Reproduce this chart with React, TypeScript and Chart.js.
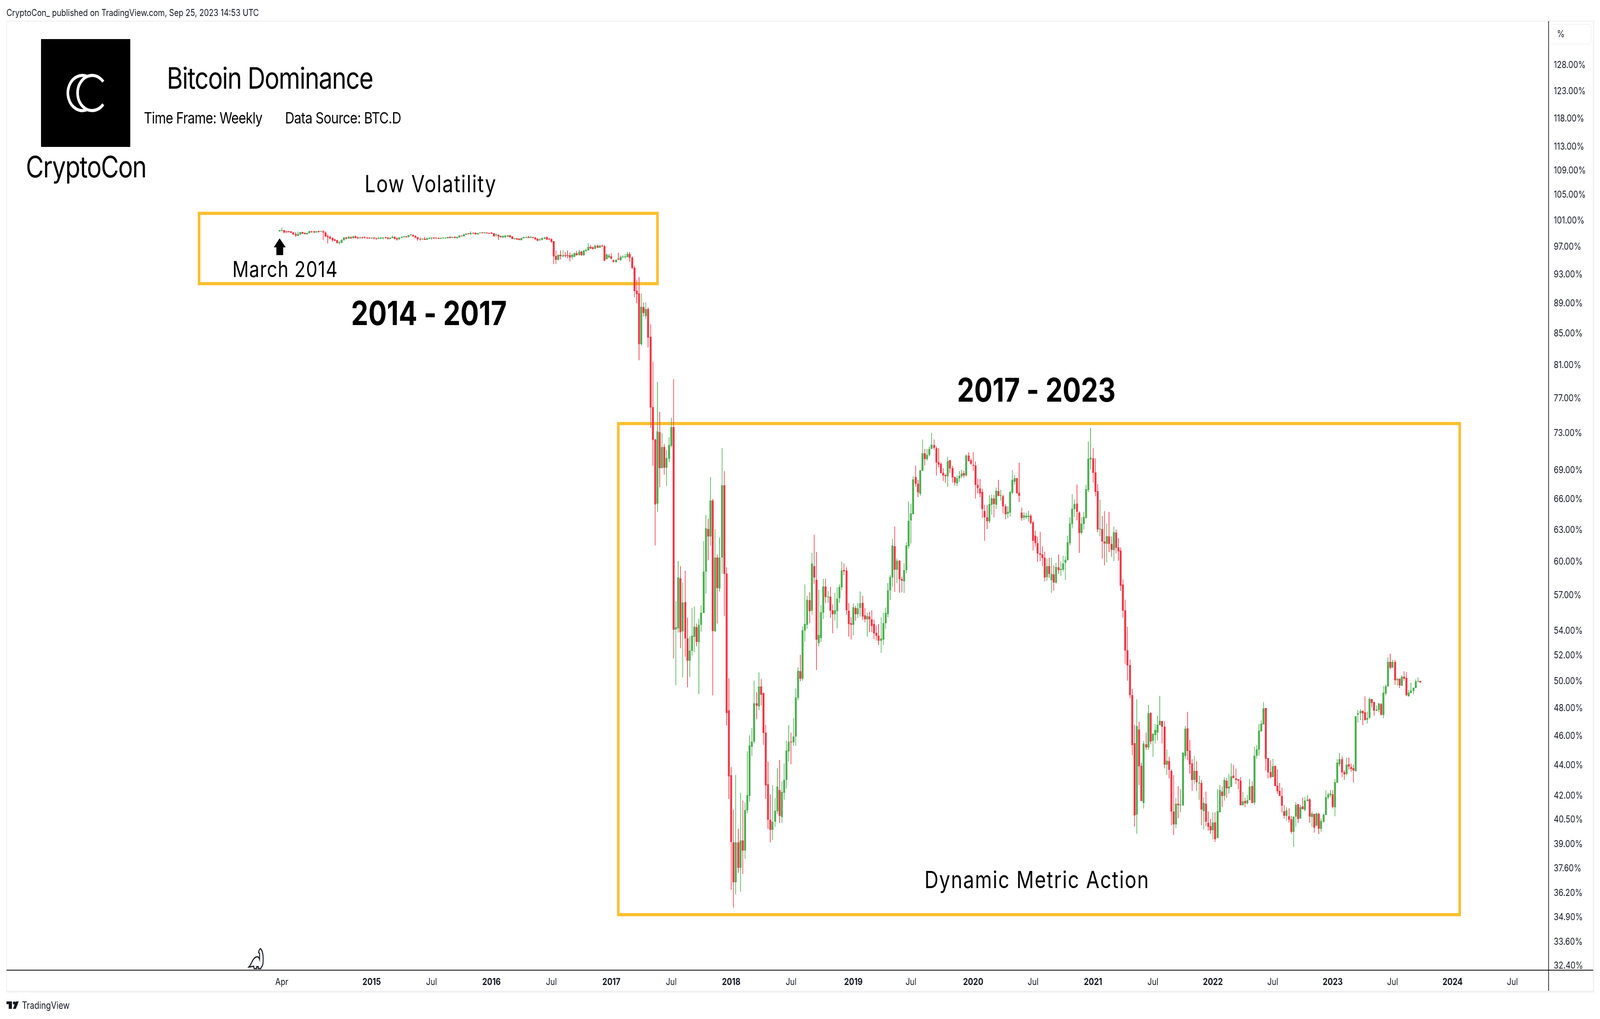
import React, { useEffect, useRef } from "react";
import { Chart, registerables } from "chart.js";

Chart.register(...registerables);

type Candle = [number, number, number, number]; // open, high, low, close (percent)

const weeks2014: Candle[] = [
[99.34,99.54,99.30,99.50],[99.40,99.96,99.36,99.48],[99.50,99.54,99.07,99.18],[99.32,99.36,99.16,99.18],[99.32,99.38,99.16,99.22],[99.32,99.36,99.12,99.14],[99.18,99.24,98.83,98.89],[98.95,99.24,98.53,98.71],[98.65,99.28,98.65,98.95],[98.89,99.24,98.77,99.20],
[99.20,99.26,98.95,99.01],[99.10,99.18,98.87,98.95],[98.89,99.12,98.89,99.12],[99.07,99.44,99.07,99.32],[99.32,99.38,99.12,99.20],[99.32,99.38,99.12,99.18],[99.18,99.36,99.18,99.32],[99.36,99.44,99.16,99.24],[99.26,99.42,99.26,99.38],[99.36,99.54,97.99,99.18],
[99.18,99.36,98.47,98.59],[98.65,98.89,97.51,98.47],[98.55,98.71,98.11,98.25],[98.35,98.41,97.75,97.99],[98.09,98.23,97.87,97.93],[97.99,98.05,97.51,97.57],[97.59,97.87,97.33,97.69],[97.63,98.17,97.51,98.03],[97.99,98.47,97.99,98.41],[98.41,98.53,98.11,98.23],
[98.23,98.65,98.23,98.53],[98.49,98.59,98.23,98.29],[98.29,98.71,98.29,98.59],[98.59,98.77,98.29,98.35],[98.41,98.59,98.17,98.31],[98.29,98.59,98.29,98.39],[98.43,98.53,98.25,98.33],[98.47,98.59,98.29,98.35],[98.41,98.47,98.23,98.29],[98.37,98.41,98.23,98.29],
];
const weeks2015: Candle[] = [
[98.29,98.41,98.23,98.37],[98.35,98.47,98.11,98.29],[98.31,98.35,98.05,98.23],[98.23,98.53,98.23,98.33],[98.25,98.47,98.23,98.41],[98.29,98.47,98.11,98.35],[98.41,98.53,98.23,98.33],[98.41,98.47,98.11,98.23],[98.17,98.47,98.17,98.37],[98.35,98.71,98.29,98.53],
[98.53,98.59,98.11,98.23],[98.27,98.41,97.93,98.13],[98.17,98.53,98.05,98.41],[98.35,98.59,98.29,98.53],[98.47,98.65,98.41,98.55],[98.55,98.65,98.41,98.49],[98.47,98.83,98.47,98.77],[98.77,98.93,98.71,98.83],[98.83,98.83,98.53,98.59],[98.65,98.77,98.29,98.41],
[98.47,98.47,97.93,98.17],[98.23,98.41,97.93,98.13],[98.11,98.29,98.11,98.23],[98.23,98.53,98.05,98.05],[98.05,98.41,98.05,98.29],[98.23,98.41,98.17,98.35],[98.29,98.47,98.05,98.33],[98.35,98.47,98.17,98.29],[98.35,98.41,98.23,98.29],[98.35,98.41,98.17,98.23],
[98.23,98.41,98.17,98.35],[98.29,98.41,98.23,98.35],[98.29,98.41,98.23,98.35],[98.29,98.53,98.29,98.47],[98.53,98.59,98.29,98.35],[98.35,98.53,98.35,98.53],[98.53,98.59,98.29,98.35],[98.29,98.59,98.29,98.47],[98.40,98.80,98.38,98.70],[98.70,98.72,98.56,98.58],
[98.60,98.92,98.60,98.86],[98.80,99.05,98.80,98.99],[98.99,99.03,98.90,98.94],[98.90,99.37,98.90,99.13],[99.13,99.19,98.97,99.01],[99.09,99.15,98.88,98.90],[98.90,99.13,98.90,99.09],[99.03,99.15,99.03,99.13],[99.17,99.21,99.03,99.07],[99.07,99.21,99.07,99.19],
[99.17,99.19,98.99,99.03],[99.09,99.13,98.96,98.99],
];
const weeks2016: Candle[] = [
[99.15,99.19,98.94,99.01],[99.07,99.13,98.58,98.60],[98.76,99.00,98.54,98.80],[98.80,98.86,98.07,98.56],[98.64,98.70,98.40,98.46],[98.40,98.74,98.36,98.62],[98.44,98.80,98.36,98.70],[98.52,98.78,98.50,98.74],[98.74,98.78,98.40,98.44],[98.56,98.60,98.15,98.17],
[98.17,98.34,98.11,98.30],[98.30,98.36,98.05,98.11],[98.21,98.27,97.97,98.03],[98.01,98.40,98.01,98.36],[98.30,98.52,98.30,98.44],[98.34,98.56,98.34,98.48],[98.50,98.64,98.32,98.36],[98.32,98.58,98.32,98.50],[98.46,98.54,98.30,98.34],[98.40,98.46,98.09,98.13],
[98.21,98.30,97.89,97.95],[98.01,98.30,97.95,98.11],[98.05,98.42,98.01,98.36],[98.21,98.54,98.17,98.40],[98.44,98.60,98.05,98.09],[98.21,98.34,98.05,98.11],[98.19,98.27,97.56,97.77],[97.85,97.87,94.52,95.65],[95.70,96.41,94.56,95.11],[95.11,95.88,95.05,95.88],
[95.88,96.49,95.19,95.63],[95.63,96.53,95.45,95.80],[95.76,96.24,95.45,95.68],[95.76,96.49,95.35,95.70],[95.78,96.18,94.90,95.45],[95.49,96.04,95.15,95.88],[95.55,96.18,95.53,96.10],[96.10,96.43,95.72,95.78],[95.78,96.63,95.74,96.34],[96.34,96.45,95.68,95.82],
[95.82,96.53,95.66,96.51],[96.39,96.75,96.32,96.57],[96.47,97.52,96.47,97.00],[97.00,97.32,96.69,96.77],[96.95,97.05,96.61,96.69],[96.69,97.36,96.69,97.18],[97.18,97.36,96.85,96.89],[96.89,97.38,96.85,97.18],[97.18,97.36,97.00,97.06],[97.12,97.32,94.94,95.00],
[95.25,96.04,95.15,95.94],[95.45,95.98,95.39,95.74],
];
const weeks2017: Candle[] = [
[95.65,96.10,95.15,95.29],[95.05,95.19,94.74,94.82],[94.80,95.15,94.74,95.11],[95.20,96.14,95.07,95.15],[95.07,95.75,95.01,95.58],[95.47,95.81,95.47,95.58],[95.52,95.97,95.29,95.56],[95.52,96.25,95.52,95.97],[95.97,96.25,94.84,95.41],[95.47,95.63,93.79,93.96],
[94.00,94.28,89.83,90.68],[90.73,92.21,89.03,90.25],[90.36,92.66,81.63,83.63],[83.63,90.36,83.43,88.55],[88.50,89.13,87.25,87.72],[87.30,89.13,86.94,88.23],[88.23,88.44,83.23,84.48],[84.58,86.23,73.61,75.93],[75.97,81.40,69.47,72.28],[72.32,72.40,61.52,65.51],
[65.58,78.93,64.77,73.22],[73.13,75.44,67.24,69.23],[69.23,73.05,69.19,71.49],[71.49,71.83,68.53,69.27],[69.27,71.15,67.36,70.31],[70.23,72.55,69.85,71.70],[71.62,74.76,71.45,73.71],[73.71,79.30,51.79,54.11],[54.12,56.49,49.71,54.31],[54.24,60.06,53.86,58.60],
[58.53,59.62,52.61,53.89],[53.96,58.15,50.29,56.39],[56.42,59.20,51.92,53.38],[53.38,55.11,49.56,51.62],[51.62,53.54,50.32,52.41],[52.38,55.94,52.01,53.60],[53.51,56.05,52.28,54.34],[54.31,54.60,52.77,53.12],[53.09,55.01,49.06,54.53],[54.53,56.15,53.92,55.54],
[55.50,61.94,55.50,59.12],[59.12,64.45,57.17,63.18],[63.10,64.06,60.14,62.37],[62.37,68.28,61.50,65.90],[65.90,66.06,48.93,54.00],[53.96,63.10,53.96,60.39],[60.39,60.69,54.60,57.64],[57.61,62.26,57.34,60.39],[60.39,71.35,58.94,67.43],[67.43,68.89,55.23,58.91],
[58.94,59.52,46.75,47.64],[47.84,50.23,41.80,43.27],
];
const weeks2018: Candle[] = [
[43.35,43.88,36.40,39.14],[39.12,41.12,35.42,36.81],[36.81,43.37,36.14,39.12],[39.12,39.93,37.33,37.64],[37.64,42.18,36.29,39.24],[39.24,41.70,37.28,38.63],[38.63,41.57,38.16,41.10],[41.07,44.94,40.88,42.03],[42.00,46.06,41.62,45.34],[45.26,46.57,44.61,45.61],
[45.61,50.07,45.47,48.37],[48.35,49.17,47.18,48.18],[48.12,50.68,47.84,49.62],[49.62,50.17,48.23,49.00],[49.11,49.17,45.39,46.22],[46.25,46.81,41.80,42.66],[42.74,44.24,39.95,40.50],[40.50,42.08,39.12,39.86],[39.86,42.69,39.26,40.36],[40.38,41.85,40.07,41.05],
[41.02,43.81,40.86,42.59],[42.36,44.37,40.31,40.74],[40.67,42.92,40.31,42.23],[42.18,44.11,41.75,43.04],[43.02,45.69,42.46,44.99],[44.94,46.76,44.24,45.58],[45.61,46.25,44.08,45.56],[45.56,47.29,45.31,45.96],[45.96,49.47,45.31,48.80],[48.77,51.10,48.60,50.80],
[50.77,52.07,50.02,50.20],[50.20,54.37,50.05,54.05],[54.02,57.98,53.12,54.57],[54.50,56.96,54.18,56.62],[56.59,57.27,54.63,55.67],[55.70,60.82,55.37,59.85],[59.60,62.52,58.02,58.60],[58.39,60.89,50.86,53.28],[53.02,57.51,52.77,53.67],[53.41,56.15,53.09,55.57],
[55.54,58.49,55.01,57.81],[57.78,58.49,56.32,56.86],[56.85,57.37,56.35,56.90],[56.90,57.75,55.11,55.71],[55.74,56.22,53.82,55.40],[55.40,57.24,54.87,55.74],[55.67,57.68,54.21,56.73],[56.76,57.98,56.35,57.75],[57.71,60.03,57.47,59.23],[59.27,59.85,58.80,59.16],
[59.23,59.49,55.37,55.74],[55.71,56.32,53.54,54.57],[54.66,55.13,53.28,54.50],
];
const weeks2019: Candle[] = [
[54.53,56.32,53.64,56.01],[55.94,56.11,54.84,55.40],[55.40,56.32,55.08,55.91],[55.94,57.34,55.21,56.32],[56.35,56.96,54.91,55.21],[55.30,55.94,54.72,54.98],[54.98,55.54,53.54,55.24],[55.21,55.60,53.89,54.98],[54.98,55.74,53.89,54.41],[54.57,54.95,53.32,53.80],
[53.83,54.44,53.22,53.60],[53.60,54.57,52.86,53.19],[53.19,55.13,52.22,53.38],[53.28,55.54,52.86,54.63],[54.63,55.98,54.18,55.50],[55.40,58.12,55.13,57.44],[57.44,58.80,56.59,58.63],[58.60,62.16,57.75,61.51],[61.47,63.33,57.30,59.31],[59.31,60.32,58.12,60.10],
[60.10,60.14,57.24,58.46],[58.46,58.66,57.27,58.32],[58.26,59.88,57.20,59.27],[59.27,61.83,58.97,61.51],[61.47,65.78,61.25,63.87],[63.91,65.59,61.72,64.60],[64.52,68.36,64.52,68.04],[68.28,69.50,67.31,67.59],[67.59,68.00,66.25,66.72],[66.56,69.01,66.37,68.97],
[68.93,72.30,68.93,70.80],[70.80,71.28,69.54,70.18],[70.18,71.28,70.02,70.65],[70.65,71.54,70.48,71.28],[71.28,73.03,71.28,71.74],[71.69,72.30,71.20,71.43],[71.39,71.52,68.44,69.82],[69.86,71.35,69.33,69.62],[69.70,69.82,68.68,68.68],[68.72,69.25,67.87,68.44],
[68.48,68.60,67.67,68.36],[68.36,70.44,67.27,69.98],[70.06,70.10,68.72,69.21],[69.25,69.46,67.71,68.24],[68.28,68.32,67.39,67.71],[67.63,68.44,67.35,68.16],[68.16,68.89,67.79,68.40],[68.36,69.05,68.16,68.64],[68.68,68.93,68.20,68.44],[68.44,70.68,68.32,70.56],
[70.56,70.89,69.94,69.98],[70.06,70.23,69.58,69.70],
];
const weeks2020: Candle[] = [
[69.54,70.93,68.93,69.50],[69.54,69.94,66.09,67.47],[67.47,68.12,66.62,67.14],[67.10,68.08,66.25,66.62],[66.77,67.06,64.14,65.04],[64.85,65.48,61.98,64.22],[64.22,65.41,63.10,63.83],[63.83,66.41,63.64,65.52],[65.48,66.49,64.48,66.13],[66.09,66.45,64.22,65.52],
[65.48,67.21,65.02,66.89],[66.85,68.00,66.33,66.37],[66.37,66.97,65.90,66.41],[66.33,66.49,64.60,65.29],[65.29,65.55,64.02,64.52],[64.56,65.33,64.14,64.75],[64.67,66.85,64.29,66.77],[66.69,69.01,66.53,68.00],[67.79,68.48,67.51,68.16],[68.16,68.20,66.62,66.62],
[66.69,69.82,65.75,66.37],[64.67,65.18,63.87,64.14],[64.18,64.71,63.95,64.41],[64.22,64.67,64.06,64.37],[64.25,64.88,63.79,64.37],[64.37,64.52,63.52,63.68],[63.72,63.87,61.04,61.98],[62.45,62.95,61.40,61.76],[61.76,62.34,60.00,60.75],[60.79,62.84,60.07,60.64],
[60.68,61.47,59.60,60.36],[60.39,60.93,58.26,58.60],[58.63,60.28,58.32,59.63],[59.63,60.36,58.56,58.91],[58.36,60.39,57.24,58.91],[58.87,59.67,57.41,58.15],[58.15,59.92,58.05,59.56],[59.52,60.68,58.91,59.27],[59.27,60.03,58.73,59.38],[59.31,60.57,59.11,59.88],
[59.92,60.50,58.39,60.17],[60.14,62.45,60.14,61.83],[61.76,64.22,61.54,63.60],[63.56,66.53,63.18,65.09],[65.02,66.01,64.25,65.55],[65.59,67.51,63.91,64.75],[64.67,64.79,60.82,62.70],[62.70,64.22,62.55,63.60],[63.56,64.75,63.03,64.25],[64.18,67.47,64.06,67.02],
[66.97,72.08,66.77,70.23],[70.14,73.61,69.10,70.35],
];
const weeks2021: Candle[] = [
[70.27,71.39,67.71,68.72],[68.76,70.27,66.33,66.77],[66.85,67.55,62.80,63.03],[63.03,65.98,62.41,63.10],[63.10,64.33,60.28,61.90],[61.90,64.85,59.70,61.72],[61.69,63.60,59.96,62.41],[62.37,64.75,60.89,61.69],[61.69,62.37,60.46,61.11],[61.07,63.33,60.07,62.80],
[62.76,63.03,60.79,61.29],[61.33,62.23,60.10,60.97],[61.04,61.36,57.41,57.85],[57.98,58.42,55.11,55.71],[55.74,56.62,51.37,52.41],[52.43,54.34,50.07,51.25],[51.28,51.71,48.74,48.97],[48.97,49.43,44.67,45.37],[45.50,46.81,40.05,40.76],[40.81,48.66,39.64,46.73],
[46.46,47.03,42.69,43.94],[43.95,44.16,41.67,41.67],[41.55,45.66,41.19,45.47],[45.44,46.25,45.05,45.20],[45.20,48.26,45.05,47.64],[47.64,47.70,45.42,45.61],[45.66,46.22,44.56,46.17],[46.09,46.86,45.47,46.44],[46.25,47.46,45.71,46.81],[46.78,48.91,46.78,47.07],
[47.07,47.07,45.47,46.65],[46.65,47.05,43.81,44.03],[44.03,45.07,43.37,44.30],[44.27,44.56,43.14,43.70],[43.62,43.73,40.16,41.00],[41.00,43.35,39.57,40.20],[40.20,41.83,39.97,41.50],[41.50,42.61,40.60,41.40],[41.40,42.41,40.95,41.45],[41.40,44.86,41.34,44.86],
[44.61,46.73,44.45,46.52],[46.54,47.72,44.37,44.97],[44.99,45.74,43.45,44.08],[44.11,44.40,42.33,43.04],[43.04,44.61,42.76,43.62],[43.62,44.29,42.33,42.87],[42.80,43.32,41.75,42.84],[42.82,43.02,40.16,41.12],[41.02,41.90,39.90,41.54],[41.50,42.26,40.10,40.36],
[40.31,41.00,39.81,40.07],[40.10,40.55,39.64,39.84],
];
const weeks2022: Candle[] = [
[39.84,40.95,39.31,40.33],[40.33,40.95,39.14,39.31],[39.38,42.41,39.38,41.02],[40.95,42.69,40.95,42.38],[42.26,42.59,41.29,41.98],[41.98,43.22,41.70,43.02],[42.97,43.17,41.86,42.46],[42.46,43.42,42.15,42.59],[42.56,44.11,42.56,43.27],[43.30,44.03,43.14,43.17],
[43.14,43.78,42.76,43.02],[43.07,43.09,42.43,42.97],[42.99,43.22,41.40,41.40],[41.40,42.23,41.38,41.64],[41.67,41.86,41.26,41.52],[41.52,42.03,41.45,41.72],[41.72,43.09,41.72,42.59],[42.61,42.94,41.52,41.55],[41.57,45.26,41.43,44.64],[44.64,45.37,44.43,45.07],
[45.05,46.86,44.64,46.38],[46.33,47.11,46.33,46.89],[46.84,48.45,46.84,47.99],[48.02,48.02,43.65,44.45],[44.48,44.48,43.14,43.52],[43.55,44.34,43.14,43.22],[43.22,44.43,43.22,43.94],[43.97,43.97,42.61,42.61],[42.64,43.73,42.13,42.28],[42.31,42.82,42.00,42.00],
[42.00,42.51,40.95,41.37],[41.02,41.40,40.56,40.74],[40.74,41.26,40.45,41.07],[40.71,41.21,40.33,40.50],[40.52,40.74,39.64,39.74],[39.74,40.69,38.83,40.69],[40.69,41.60,40.05,41.43],[41.48,41.48,40.31,40.55],[40.57,41.43,40.57,41.26],[41.31,41.90,41.14,41.14],
[41.09,41.95,41.00,41.70],[41.67,42.05,41.65,41.77],[41.77,41.83,40.31,40.69],[40.67,41.00,40.05,40.88],[40.86,40.86,39.71,40.02],[40.12,40.93,40.10,40.88],[40.86,40.93,39.62,39.95],[39.95,40.57,39.76,40.41],[40.38,40.88,40.31,40.81],[40.79,42.38,40.79,41.92],
[41.90,42.20,41.77,42.08],[42.05,42.36,41.88,42.13],
];
const weeks2023: Candle[] = [
[42.10,42.36,41.19,41.29],[41.26,43.07,40.71,42.87],[42.84,44.40,42.82,44.16],[44.08,44.83,43.92,44.40],[44.40,44.59,43.22,43.52],[43.55,43.68,43.02,43.40],[43.42,44.51,43.30,44.05],[44.08,44.51,43.73,43.92],[43.89,44.11,43.57,43.76],[43.81,44.05,42.84,43.65],
[43.60,47.43,43.60,47.43],[47.52,47.86,46.97,47.64],[47.64,47.92,47.14,47.78],[47.81,47.81,46.76,47.61],[47.70,48.88,47.11,47.14],[47.16,47.75,46.89,47.27],[47.30,48.80,47.22,48.69],[48.69,48.69,48.07,48.40],[48.46,48.49,47.46,47.81],[47.81,48.18,47.78,47.89],
[47.87,48.35,47.70,48.35],[48.29,48.40,47.46,47.54],[47.51,49.65,47.27,49.14],[49.08,49.77,48.94,49.65],[49.62,51.89,49.62,51.53],[51.53,52.16,50.94,51.07],[51.07,51.68,51.07,51.53],[51.53,51.68,49.74,50.10],[50.10,50.26,49.68,50.17],[50.20,50.20,49.50,49.71],
[49.68,50.47,49.65,50.35],[50.35,50.77,50.05,50.20],[50.26,50.71,48.88,48.96],[48.88,49.35,48.85,49.14],[49.11,49.90,49.11,49.32],[49.29,49.53,49.03,49.53],[49.50,50.14,49.50,49.99],[49.96,50.29,49.96,50.02],[50.02,50.02,49.90,49.90],
];

const priceTicks = [32.4, 33.6, 34.9, 36.2, 37.6, 39, 40.5, 42, 44, 46, 48, 50, 52, 54, 57, 60, 63, 66, 69, 73, 77, 81, 85, 89, 93, 97, 101, 105, 109, 113, 118, 123, 128];
const timeTickWeeks = [1, 40, 66, 92, 118, 144, 170, 196, 222, 249, 274, 301, 327, 353, 379, 405, 431, 457, 483, 509, 535];
const timeTickLabels = ["Apr", "2015", "Jul", "2016", "Jul", "2017", "Jul", "2018", "Jul", "2019", "Jul", "2020", "Jul", "2021", "Jul", "2022", "Jul", "2023", "Jul", "2024", "Jul"];

const candles: Candle[] = [...weeks2014, ...weeks2015, ...weeks2016, ...weeks2017, ...weeks2018, ...weeks2019, ...weeks2020, ...weeks2021, ...weeks2022, ...weeks2023];

const UP = "#4CAF50";
const DOWN = "#F23645";
const ORANGE = "#FCBF2D";
const INK = "#000000";
const FONT = "Inter, 'Liberation Sans', sans-serif";

function label(ctx: CanvasRenderingContext2D, text: string, x: number, y: number, size: number, weight = 400, spacing = "0px", color = INK) {
  ctx.font = `${weight} ${size}px ${FONT}`;
  ctx.fillStyle = color;
  ctx.textAlign = "left";
  ctx.textBaseline = "alphabetic";
  (ctx as any).letterSpacing = spacing;
  ctx.fillText(text, x, y);
  (ctx as any).letterSpacing = "0px";
}

const snapPlugin = {
  id: "snap",
  afterDatasetsUpdate(chart: any) {
    chart.data.datasets.forEach((_: any, i: number) => {
      chart.getDatasetMeta(i).data.forEach((el: any) => {
        el.x = Math.round(el.x);
        el.y = Math.round(el.y);
        el.base = Math.round(el.base);
        if (Math.abs(el.y - el.base) < 2) el.base = el.y + 2;
      });
    });
  },
};

const boxesPlugin = {
  id: "boxes",
  beforeDatasetsDraw(chart: any) {
    const ctx: CanvasRenderingContext2D = chart.ctx;
    ctx.save();
    ctx.strokeStyle = ORANGE;
    ctx.lineWidth = 8;
    ctx.lineJoin = "miter";
    ctx.strokeRect(616, 546, 1418, 180);
    ctx.strokeRect(1913, 1084, 2603, 1257);
    ctx.restore();
  },
};

const framePlugin = {
  id: "frame",
  afterDraw(chart: any) {
    const ctx: CanvasRenderingContext2D = chart.ctx;
    ctx.save();
    ctx.strokeStyle = "#EFEFF4";
    ctx.lineWidth = 2;
    ctx.beginPath();
    ctx.moveTo(20, 2537);
    ctx.lineTo(20, 54);
    ctx.lineTo(4930, 54);
    ctx.stroke();
    ctx.lineWidth = 4;
    ctx.beginPath();
    ctx.moveTo(4930, 54);
    ctx.lineTo(4930, 2538);
    ctx.lineTo(20, 2538);
    ctx.stroke();
    ctx.strokeStyle = "#000000";
    ctx.lineWidth = 2;
    ctx.beginPath();
    ctx.moveTo(20, 2483);
    ctx.lineTo(4929, 2483);
    ctx.moveTo(4791, 54);
    ctx.lineTo(4791, 2536);
    ctx.stroke();
    ctx.strokeStyle = "#EFEFF4";
    ctx.lineWidth = 1.5;
    ctx.beginPath();
    (ctx as any).roundRect(4797, 62, 126, 51, 8);
    ctx.stroke();
    label(ctx, "%", 4817, 95, 24, 400, "0px", "#131722");

    ctx.fillStyle = "#000000";
    ctx.fillRect(127, 100, 276, 276);
    ctx.strokeStyle = "#FFFFFF";
    ctx.lineWidth = 8;
    ctx.beginPath();
    ctx.arc(255, 238, 45, (70 * Math.PI) / 180, (290 * Math.PI) / 180);
    ctx.stroke();
    ctx.beginPath();
    ctx.arc(285, 238, 45, (40 * Math.PI) / 180, (320 * Math.PI) / 180);
    ctx.stroke();

    label(ctx, "CryptoCon_ published on TradingView.com, Sep 25, 2023 14:53 UTC", 20, 41, 24, 400, "0px", "#131722");
    label(ctx, "Bitcoin Dominance", 516, 227, 76, 400, "-2px");
    label(ctx, "Time Frame: Weekly", 445, 316, 40, 400, "-1px");
    label(ctx, "Data Source: BTC.D", 882, 316, 40, 400, "-0.8px");
    label(ctx, "CryptoCon", 80, 454, 76, 400, "-2px");
    label(ctx, "Low Volatility", 1128, 492, 60, 400, "2.4px");
    label(ctx, "March 2014", 719, 709, 56, 400, "1.5px");
    label(ctx, "2014 - 2017", 1086, 832, 85, 700);
    label(ctx, "2017 - 2023", 2961, 1028, 84, 700);
    label(ctx, "Dynamic Metric Action", 2860, 2273, 60, 400, "2.5px");

    ctx.fillStyle = "#000000";
    ctx.beginPath();
    ctx.moveTo(865, 610);
    ctx.lineTo(884, 633);
    ctx.lineTo(876, 633);
    ctx.lineTo(876, 653);
    ctx.lineTo(855, 653);
    ctx.lineTo(855, 633);
    ctx.lineTo(847, 633);
    ctx.closePath();
    ctx.fill();

    ctx.strokeStyle = "#131722";
    ctx.lineWidth = 3;
    ctx.fillStyle = "#FFFFFF";
    ctx.beginPath();
    ctx.moveTo(806, 2428);
    ctx.bezierCurveTo(812, 2432, 815, 2445, 814, 2460);
    ctx.bezierCurveTo(814, 2468, 812, 2473, 808, 2476);
    ctx.lineTo(807, 2479);
    ctx.lineTo(799, 2479);
    ctx.lineTo(799, 2474);
    ctx.lineTo(794, 2474);
    ctx.lineTo(794, 2479);
    ctx.lineTo(786, 2479);
    ctx.lineTo(785, 2473);
    ctx.lineTo(770, 2475);
    ctx.bezierCurveTo(778, 2468, 782, 2452, 793, 2449);
    ctx.bezierCurveTo(798, 2448, 801, 2450, 803, 2455);
    ctx.lineTo(803, 2440);
    ctx.lineTo(800, 2438);
    ctx.bezierCurveTo(801, 2432, 803, 2429, 806, 2428);
    ctx.closePath();
    ctx.fill();
    ctx.stroke();

    ctx.fillStyle = "#131722";
    ctx.fillRect(20, 2563, 17, 7);
    ctx.fillRect(27, 2563, 10, 19);
    ctx.beginPath();
    ctx.arc(44, 2567, 4, 0, Math.PI * 2);
    ctx.fill();
    ctx.beginPath();
    ctx.moveTo(58, 2563);
    ctx.lineTo(49, 2563);
    ctx.lineTo(40, 2582);
    ctx.lineTo(49, 2582);
    ctx.closePath();
    ctx.fill();
    label(ctx, "TradingView", 68, 2582, 25, 400, "0px", "#131722");
    ctx.restore();
  },
};

export default function App() {
  const ref = useRef<HTMLCanvasElement | null>(null);
  useEffect(() => {
    if (!ref.current) return;
    const colors = candles.map((c) => (c[3] >= c[0] ? UP : DOWN));
    const chart = new Chart(ref.current, {
      type: "bar",
      data: {
        datasets: [
          {
            label: "Wick",
            data: candles.map((c, i) => ({ x: i, y: [c[2], c[1]] })) as any,
            backgroundColor: colors,
            barThickness: 2,
            grouped: false,
            borderWidth: 0,
            inflateAmount: 0,
            order: 2,
          } as any,
          {
            label: "Body",
            data: candles.map((c, i) => ({ x: i, y: [c[0], c[3]] })) as any,
            backgroundColor: colors,
            barThickness: 6,
            minBarLength: 2,
            grouped: false,
            borderWidth: 0,
            inflateAmount: 0,
            order: 1,
          } as any,
        ],
      },
      options: {
        responsive: false,
        animation: false,
        devicePixelRatio: 1,
        layout: { padding: { left: 20, right: 20, top: 54, bottom: 71 } },
        plugins: { legend: { display: false }, tooltip: { enabled: false } },
        scales: {
          x: {
            type: "linear",
            offset: false,
            min: -118.46,
            max: 550.68,
            grid: { display: false, drawTicks: false },
            border: { display: false },
            afterBuildTicks: (s: any) => {
              s.ticks = timeTickWeeks.map((value) => ({ value }));
            },
            afterFit: (s: any) => {
              s.height = 54;
            },
            ticks: {
              autoSkip: false,
              maxRotation: 0,
              minRotation: 0,
              padding: 16,
              color: "#131722",
              font: (c: any) => {
                const i = timeTickWeeks.indexOf(c.tick?.value);
                const isYear = i >= 0 && timeTickLabels[i].length === 4;
                return { family: FONT, size: 24, weight: isYear ? 700 : 400 };
              },
              callback: (v: any) => {
                const i = timeTickWeeks.indexOf(Number(v));
                return i >= 0 ? timeTickLabels[i] : "";
              },
            },
          },
          y: {
            type: "logarithmic",
            position: "right",
            min: 32.19,
            max: 136.9,
            bounds: "data",
            grid: { display: false, drawTicks: false },
            border: { display: false },
            afterBuildTicks: (s: any) => {
              s.ticks = priceTicks.map((value) => ({ value }));
            },
            afterFit: (s: any) => {
              s.width = 139;
            },
            ticks: {
              autoSkip: false,
              crossAlign: "near",
              padding: 16,
              color: "#131722",
              font: { family: FONT, size: 24 },
              callback: (v: any) => `${Number(v).toFixed(2)}%`,
            },
          },
        },
      },
      plugins: [snapPlugin, boxesPlugin, framePlugin],
    } as any);
    return () => chart.destroy();
  }, []);
  return (
    <canvas
      ref={ref}
      width={4950}
      height={2608}
      style={{ position: "fixed", left: 0, top: 0, width: "100vw", height: "100vh", background: "#FFFFFF" }}
    />
  );
}
